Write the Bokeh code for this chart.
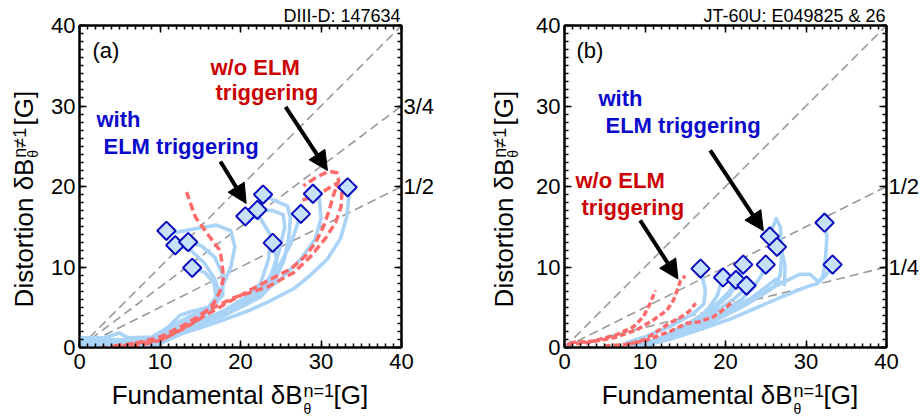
from math import pi
from bokeh.plotting import figure
from bokeh.models import Range1d, LinearAxis, FixedTicker, Label, Arrow, NormalHead
from bokeh.core.properties import value
from bokeh.layouts import row, column
from bokeh.embed import file_html
from bokeh.resources import INLINE

FONT = "Liberation Sans"

# ---------------- shared axis values ----------------
major_ticks = [0, 10, 20, 30, 40]
minor_ticks = list(range(0, 41))

# ---------------- panel (a): DIII-D 147634 ----------------
a_title = "DIII-D: 147634"
a_tag = "(a)"
a_slopes = [1.0, 0.75, 0.5]
a_right_labels = {0: "", 10: "", 20: "1/2", 30: "3/4", 40: ""}

a_with_x = [
    [0, 3, 5, 6, 9, 11, 12.5, 14, 16, 17.5, 18.8, 19.3, 18.8, 17, 14, 12, 10.8],
    [0, 4, 8, 10, 12, 14, 16.5, 17.5, 16.8, 15.5, 13.7, 11.9],
    [0, 6, 10, 12, 14, 16, 17.8, 17.8, 16.8, 15.2, 13.5],
    [0, 8, 11, 13, 15.5, 17, 16.7, 15.6, 14.0],
    [0, 9, 13, 17, 20.5, 22.5, 23.5, 23.7, 22.5, 20.6],
    [0, 8, 12, 16, 20, 22.5, 23.8, 24.8, 25.5, 25.3, 24, 22.1],
    [0, 4, 8, 12, 16, 20, 22.5, 24.1, 25.4, 26, 26.2, 25.8, 24.1, 22.8],
    [0, 10, 14, 18, 21, 23, 24.3, 24.5, 24.0],
    [0, 10, 14, 18, 21, 23.5, 25, 26.3, 27.5],
    [0, 10, 14, 18, 22, 25, 27.5, 29.3, 30, 29.8, 29.0],
    [0, 8, 12, 16.7, 20.8, 23.3, 26.6, 28.7, 30.8, 32.4, 33.2, 33.5, 33.3],
]
a_with_y = [
    [1.2, 1.2, 1.8, 1.2, 1.3, 2.5, 4, 4.5, 5, 7, 10, 12.5, 14.5, 15.2, 14.7, 14.3, 14.5],
    [0.6, 0.8, 1, 1.5, 3, 4, 5, 6.5, 8.5, 10.5, 12.2, 12.7],
    [0.3, 0.5, 1, 2.5, 3.5, 4.5, 6.5, 9, 11.2, 12.6, 13.1],
    [0.2, 0.3, 1, 2, 4, 6, 8, 9.3, 9.9],
    [0.3, 0.5, 2, 4, 6, 8, 11, 14, 16, 16.3],
    [0.5, 0.6, 1.8, 3.5, 5.5, 7, 9, 12, 15, 16.5, 17, 17.1],
    [0.8, 1, 0.9, 2, 3.8, 5, 6.3, 8, 10.8, 13.7, 16.2, 17.6, 18.3, 19.0],
    [0.2, 0.5, 2.3, 4, 5.5, 7, 9, 11, 13.0],
    [0.2, 0.4, 2.8, 4.6, 6.5, 8.5, 10.5, 13, 16.6],
    [0.3, 0.6, 2.6, 4.3, 6.3, 8.5, 11, 13.5, 16, 18.5, 19.1],
    [0.1, 0.2, 1.5, 3, 4.5, 5.6, 7.3, 9, 11, 13.5, 16.2, 19, 19.9],
]
a_wo_x = [
    [4.3, 10.1, 12.5, 14.6, 16.7, 17.5, 17.9, 17.5, 15.9, 14.4, 13.3],
    [0.5, 3, 7, 10.1, 13.4, 16, 18.8, 21.5, 24, 26.3, 28, 29.3, 30.3, 31, 31.6, 32.2, 32, 31, 29.5, 27.8],
    [1, 6, 10, 13, 15.9, 19.2, 23.3, 26.6, 28.7, 30.5, 31.8, 32.5, 32.6, 31.8, 29.5, 27.7],
]
a_wo_y = [
    [0.2, 0.9, 2.2, 3.4, 5.5, 7.1, 8.7, 12.0, 14.1, 16.2, 19.3],
    [-0.3, -0.2, 0.2, 0.9, 2.6, 4.2, 5.8, 7.3, 8.6, 9.8, 11.3, 13, 15, 17, 19.1, 20.7, 21.7, 21.9, 21.2, 20.1],
    [-0.3, 0.3, 1.3, 2.8, 4.6, 6.2, 7.5, 9.3, 11.3, 13.5, 15.5, 17.5, 19.5, 20.3, 18.9, 18.3],
]
a_diam_x = [10.8, 11.9, 13.5, 14.0, 20.6, 22.1, 22.8, 24.0, 27.5, 29.0, 33.3]
a_diam_y = [14.5, 12.7, 13.1, 9.9, 16.3, 17.1, 19.0, 13.0, 16.6, 19.1, 19.9]
# arrows: (x_start, y_start, x_end, y_end)
a_arrows = [(17.5, 23.1, 20.7, 17.9), (25.6, 29.9, 30.8, 22.0)]

# ---------------- panel (b): JT-60U E049825 & 26 ----------------
b_title = "JT-60U: E049825 & 26"
b_tag = "(b)"
b_slopes = [1.0, 0.5, 0.25]
b_right_labels = {0: "", 10: "1/4", 20: "1/2", 30: "", 40: ""}

b_with_x = [
    [7.7, 10.2, 13.1, 16, 17.3, 17.5, 17.2, 16.9],
    [7.5, 11, 14, 16.5, 18, 19, 19.3, 19.7],
    [8, 11.5, 14.5, 17, 19, 20.5, 21.3],
    [9, 12.5, 15.5, 18, 20.5, 21.8, 22.2],
    [9.5, 13, 16, 19, 21, 22.2, 22.6],
    [8, 12, 16, 19.5, 22, 23.5, 24.5, 25.0],
    [8, 12, 16, 19, 22, 24.5, 26, 26.8, 27, 26.8, 26.3, 25.9, 25.5],
    [8.5, 12.5, 16.5, 20, 23, 25, 26.3, 27.3, 27.4, 27, 26.4],
    [9.5, 13.5, 16.8, 20.1, 22.6, 25.1, 27.6, 29.3, 30.5, 31.5, 32.1, 32.4, 32.6, 32.3],
    [9, 13, 17, 20.5, 24, 27, 30, 31.5, 32.5, 33.3],
]
b_with_y = [
    [0.6, 1.4, 2.6, 4.2, 5.4, 7.1, 8.5, 9.8],
    [0, 0.8, 2, 3.5, 5, 6.5, 7.5, 8.7],
    [0.1, 1, 2.5, 4, 5.5, 7, 8.4],
    [0.2, 1.2, 2.8, 4.3, 6.5, 8.5, 10.3],
    [0.2, 1.2, 2.8, 4.6, 6, 7, 7.7],
    [0.1, 1, 2.5, 4.3, 6, 7.5, 9, 10.3],
    [0, 0.8, 2, 3.5, 5, 6.5, 7.5, 9, 12, 15, 16, 15, 13.8],
    [0.2, 1, 2.6, 4.3, 6, 7.5, 8.5, 7.8, 10, 12, 12.5],
    [0.3, 1.5, 3, 4.6, 5.8, 7.1, 8.3, 9.1, 9.1, 8.2, 8.8, 10.8, 13.7, 15.5],
    [0, 1, 2.3, 3.5, 5, 6.3, 7.5, 8, 9, 10.3],
]
b_wo_x = [
    [0.3, 2.8, 6.1, 9, 11, 12.7, 13.5, 14, 14.4, 15.0],
    [0.7, 3.6, 6.5, 8.6, 9.8, 10.6, 11.3],
    [5, 8, 10, 11.5, 13, 14.5, 15.5, 16.3],
    [7.7, 9.8, 11.5, 13.1, 15.2, 16.8, 18.5, 20.1, 21.0],
]
b_wo_y = [
    [0.4, 0.6, 1.2, 2.2, 3.4, 4.6, 5.8, 7.1, 8.3, 8.9],
    [0.6, 0.8, 1.6, 2.6, 3.8, 5.4, 7.1],
    [0.2, 0.4, 1, 2, 3, 3.8, 4.5, 5.5],
    [0.4, 0.8, 1.4, 2, 3, 3.2, 3.8, 5, 5.8],
]
b_diam_x = [16.9, 19.7, 21.3, 22.2, 22.6, 25.0, 25.5, 26.4, 32.3, 33.3]
b_diam_y = [9.8, 8.7, 8.4, 10.3, 7.7, 10.3, 13.8, 12.5, 15.5, 10.3]
b_arrows = [(18.1, 24.5, 24.7, 14.5), (9.4, 15.8, 14.1, 8.5)]

# ---------------- styles ----------------
BLUE_LINE = "#A9D3F7"
RED_LINE = "#FF6A6A"
DIAM_FILL = "#C8E1FA"
DIAM_EDGE = "#0A0ABF"
BLUE_TXT = "#0A0ACC"
RED_TXT = "#CC0000"
GRAY = "#9A9A9A"

TOTAL_H = 417
MID_H = 380
XLAB_H = TOTAL_H - MID_H   # 37
TOP_B = 25
BOTTOM_B = MID_H - TOP_B - 322


def style_axis(ax, size="22px", standoff=4):
    ax.axis_line_width = 2
    ax.axis_line_color = "black"
    ax.major_tick_in = 7
    ax.major_tick_out = 0
    ax.minor_tick_in = 4
    ax.minor_tick_out = 0
    ax.major_tick_line_width = 1.5
    ax.minor_tick_line_width = 1.5
    ax.major_tick_line_color = "black"
    ax.minor_tick_line_color = "black"
    ax.major_label_text_font = FONT
    ax.major_label_text_font_size = size
    ax.major_label_text_color = "black"
    ax.major_label_standoff = standoff


def lbl(p, x, y, text, size, color="black", bold=False):
    p.add_layout(Label(x=x, y=y, x_units="screen", y_units="screen", text=text,
                       text_font=FONT, text_font_size=size, text_color=color,
                       text_font_style="bold" if bold else "normal",
                       text_align="left", text_baseline="middle"))


def strip(w, h):
    """A bare figure whose data units are its own pixels (for texts outside the frame)."""
    s = figure(width=w, height=h, x_range=Range1d(0, w), y_range=Range1d(0, h),
               x_axis_type=None, y_axis_type=None, output_backend="svg",
               toolbar_location=None, min_border=0)
    s.grid.visible = False
    s.outline_line_color = None
    s.background_fill_color = "white"
    s.border_fill_color = "white"
    return s


def txt(s, x, y, text, size, align="left", angle=0.0):
    # (x, y) is the centre line of the text
    s.text(x=[x], y=[y], text=[text], text_font=value(FONT), text_font_size=value(size),
           text_color="black", text_align=align, text_baseline="middle", angle=angle)


def make_main(width, ml, mr, title, slopes, right_labels, with_x, with_y, wo_x, wo_y,
              dx, dy, arrows, dash):
    p = figure(width=width, height=MID_H, x_range=Range1d(0, 40), y_range=Range1d(0, 40),
               output_backend="svg", toolbar_location=None, title=title,
               min_border_left=ml, min_border_right=mr,
               min_border_top=TOP_B, min_border_bottom=BOTTOM_B)
    p.title.align = "right"
    p.title.text_font = FONT
    p.title.text_font_size = "18px"
    p.title.text_font_style = "normal"
    p.title.text_color = "black"
    p.title.standoff = 0
    p.title.offset = 1
    p.grid.visible = False
    p.outline_line_color = "black"
    p.outline_line_width = 2
    p.background_fill_color = "white"
    p.border_fill_color = "white"

    p.xaxis.ticker = FixedTicker(ticks=major_ticks, minor_ticks=minor_ticks)
    p.yaxis.ticker = FixedTicker(ticks=major_ticks, minor_ticks=minor_ticks)
    style_axis(p.xaxis[0], standoff=6)
    style_axis(p.yaxis[0], standoff=4)

    top = LinearAxis(ticker=FixedTicker(ticks=major_ticks, minor_ticks=minor_ticks),
                     major_label_overrides={t: "" for t in major_ticks})
    style_axis(top, size="0px", standoff=0)
    p.add_layout(top, "above")
    right = LinearAxis(ticker=FixedTicker(ticks=major_ticks, minor_ticks=minor_ticks),
                       major_label_overrides=right_labels)
    style_axis(right, standoff=2)
    p.add_layout(right, "right")

    for s in slopes:
        p.line([0, 40], [0, 40 * s], line_color=GRAY, line_width=1.6, line_dash="9 5")

    p.multi_line(with_x, with_y, line_color=BLUE_LINE, line_width=3.6,
                 line_join="round", line_cap="round")
    p.multi_line(wo_x, wo_y, line_color=RED_LINE, line_width=3.5,
                 line_dash=dash, line_join="round")

    p.scatter(dx, dy, marker="square", size=13, angle=pi / 4, fill_color=DIAM_FILL,
              line_color=DIAM_EDGE, line_width=2)

    for (xs, ys, xe, ye) in arrows:
        p.add_layout(Arrow(end=NormalHead(size=19, fill_color="black", line_color="black"),
                           x_start=xs, y_start=ys, x_end=xe, y_end=ye,
                           line_width=4, line_color="black"))
    return p


# ================= panel (a) =================
A_W, A_YL = 460, 40
main_a = make_main(A_W - A_YL, 79 - A_YL, 59, a_title, a_slopes, a_right_labels,
                   a_with_x, a_with_y, a_wo_x, a_wo_y, a_diam_x, a_diam_y, a_arrows, "8 4")
lbl(main_a, 13, 297, a_tag, "22px")
lbl(main_a, 17, 228, "with", "22px", BLUE_TXT, bold=True)
lbl(main_a, 24, 201, "ELM triggering", "22px", BLUE_TXT, bold=True)
lbl(main_a, 131, 280, "w/o ELM", "22px", RED_TXT, bold=True)
lbl(main_a, 136, 255, "triggering", "22px", RED_TXT, bold=True)

ylab_a = strip(A_YL, MID_H)
txt(ylab_a, 23, 223, "Distortion δB", "26px", align="right", angle=pi / 2)
txt(ylab_a, 32, 224, "θ", "14px", angle=pi / 2)
txt(ylab_a, 19.5, 224, "n≠1", "18px", angle=pi / 2)
txt(ylab_a, 23, 262, "[G]", "26px", angle=pi / 2)

xlab_a = strip(A_W, XLAB_H)
txt(xlab_a, 302, 22.5, "Fundamental δB", "26px", align="right")
txt(xlab_a, 303, 9, "θ", "14px")
txt(xlab_a, 303, 27, "n=1", "18px")
txt(xlab_a, 333, 22.5, "[G]", "26px")

col_a = column(row(ylab_a, main_a), xlab_a)

# ================= panel (b) =================
B_W, B_YL = 464, 60
main_b = make_main(B_W - B_YL, 104 - B_YL, 38, b_title, b_slopes, b_right_labels,
                   b_with_x, b_with_y, b_wo_x, b_wo_y, b_diam_x, b_diam_y, b_arrows, "6 3")
lbl(main_b, 12, 297, b_tag, "22px")
lbl(main_b, 34, 249, "with", "22px", BLUE_TXT, bold=True)
lbl(main_b, 41, 222, "ELM triggering", "22px", BLUE_TXT, bold=True)
lbl(main_b, 11, 167, "w/o ELM", "22px", RED_TXT, bold=True)
lbl(main_b, 17, 140, "triggering", "22px", RED_TXT, bold=True)

ylab_b = strip(B_YL, MID_H)
txt(ylab_b, 43, 223, "Distortion δB", "26px", align="right", angle=pi / 2)
txt(ylab_b, 52, 224, "θ", "14px", angle=pi / 2)
txt(ylab_b, 39.5, 224, "n≠1", "18px", angle=pi / 2)
txt(ylab_b, 43, 262, "[G]", "26px", angle=pi / 2)

xlab_b = strip(B_W, XLAB_H)
txt(xlab_b, 332, 22.5, "Fundamental δB", "26px", align="right")
txt(xlab_b, 333, 9, "θ", "14px")
txt(xlab_b, 333, 27, "n=1", "18px")
txt(xlab_b, 363, 22.5, "[G]", "26px")

col_b = column(row(ylab_b, main_b), xlab_b)

layout = row(col_a, col_b)
open("out.html", "w").write(file_html(layout, INLINE))
